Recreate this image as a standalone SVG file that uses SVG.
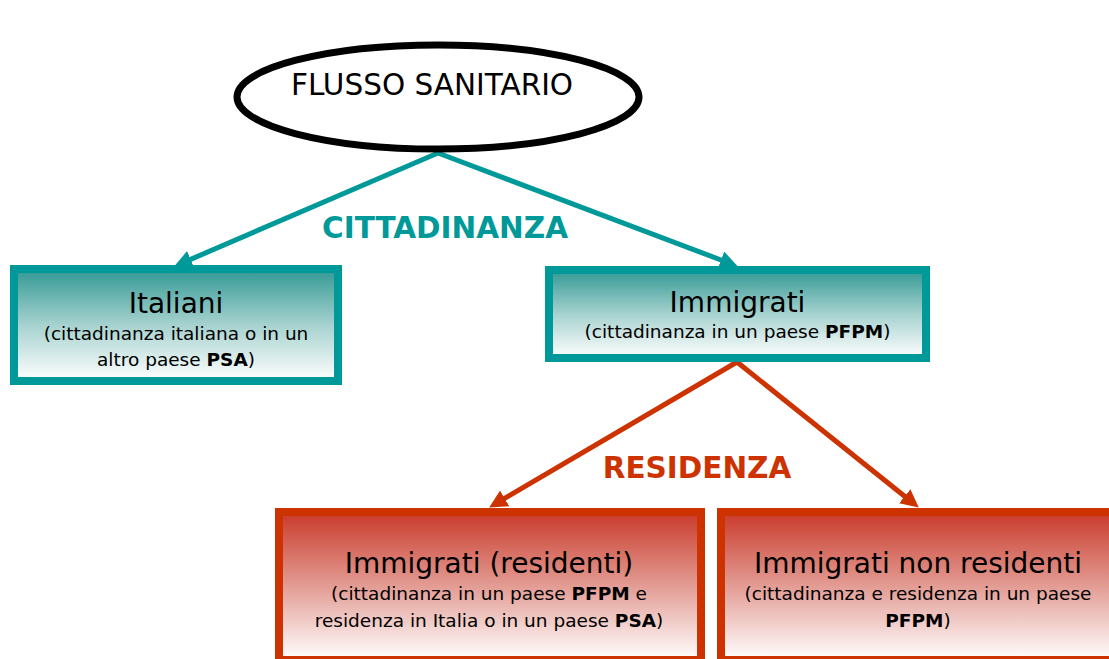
<svg xmlns="http://www.w3.org/2000/svg" width="1109" height="659" viewBox="0 0 1109 659">
<style>
text{font-family:"DejaVu Sans","Verdana",sans-serif;fill:#000;text-anchor:middle}
.t{font-size:28px}
.s{font-size:18.5px}
.b{font-weight:bold}
.lbl{font-size:29.5px;font-weight:bold}
.teal{fill:url(#gt);stroke:#009999;stroke-width:8}
.red{fill:url(#gr);stroke:#cc3300;stroke-width:8}
.ct{stroke:#009999;stroke-width:5;fill:none}
.cr{stroke:#cc3300;stroke-width:5;fill:none}
</style>
<defs>
<linearGradient id="gt" x1="0" y1="0" x2="0" y2="1">
<stop offset="0" stop-color="#329894"/>
<stop offset="0.5" stop-color="#a6d2cf"/>
<stop offset="1" stop-color="#ffffff"/>
</linearGradient>
<linearGradient id="gr" x1="0" y1="0" x2="0" y2="1">
<stop offset="0" stop-color="#c9392a"/>
<stop offset="0.5" stop-color="#e39c94"/>
<stop offset="1" stop-color="#ffffff"/>
</linearGradient>
<marker id="at" markerUnits="userSpaceOnUse" markerWidth="18" markerHeight="18" refX="7" refY="9" orient="auto">
<path d="M0,0 L18,9 L0,18 z" fill="#009999"/>
</marker>
<marker id="ar" markerUnits="userSpaceOnUse" markerWidth="18" markerHeight="18" refX="7" refY="9" orient="auto">
<path d="M0,0 L18,9 L0,18 z" fill="#cc3300"/>
</marker>
</defs>
<rect width="1109" height="659" fill="#ffffff"/>
<g id="connectors">
<line class="ct" x1="438" y1="153" x2="184.2" y2="262.1" marker-end="url(#at)"/>
<line class="ct" x1="438" y1="153" x2="727.6" y2="262.5" marker-end="url(#at)"/>
<line class="cr" x1="737" y1="362" x2="498.6" y2="501.9" marker-end="url(#ar)"/>
<line class="cr" x1="737" y1="362" x2="910.2" y2="500.7" marker-end="url(#ar)"/>
<text class="lbl" x="445" y="238" style="fill:#009999">CITTADINANZA</text>
<text class="lbl" x="697" y="478" style="fill:#cc3300">RESIDENZA</text>
</g>
<g id="flusso">
<ellipse cx="438" cy="97" rx="201" ry="52" fill="#ffffff" stroke="#000" stroke-width="7"/>
<text x="432" y="95" style="font-size:29.5px">FLUSSO SANITARIO</text>
</g>
<g id="italiani">
<rect x="14" y="269" width="324" height="112" class="teal"/>
<text class="t" x="176" y="313">Italiani</text>
<text class="s" x="176" y="340">(cittadinanza italiana o in un</text>
<text class="s" x="176" y="366">altro paese <tspan class="b">PSA</tspan>)</text>
</g>
<g id="immigrati">
<rect x="549" y="270" width="377" height="88" class="teal"/>
<text class="t" x="737.5" y="312">Immigrati</text>
<text class="s" x="737.5" y="338">(cittadinanza in un paese <tspan class="b">PFPM</tspan>)</text>
</g>
<g id="residenti">
<rect x="279" y="512" width="422" height="148" class="red"/>
<text class="t" x="489" y="573">Immigrati (residenti)</text>
<text class="s" x="489" y="600">(cittadinanza in un paese <tspan class="b">PFPM</tspan> e</text>
<text class="s" x="489" y="627">residenza in Italia o in un paese <tspan class="b">PSA</tspan>)</text>
</g>
<g id="nonresidenti">
<rect x="721" y="512" width="420" height="148" class="red"/>
<text class="t" x="918" y="573">Immigrati non residenti</text>
<text class="s" x="918" y="600">(cittadinanza e residenza in un paese</text>
<text class="s" x="918" y="627"><tspan class="b">PFPM</tspan>)</text>
</g>
</svg>
